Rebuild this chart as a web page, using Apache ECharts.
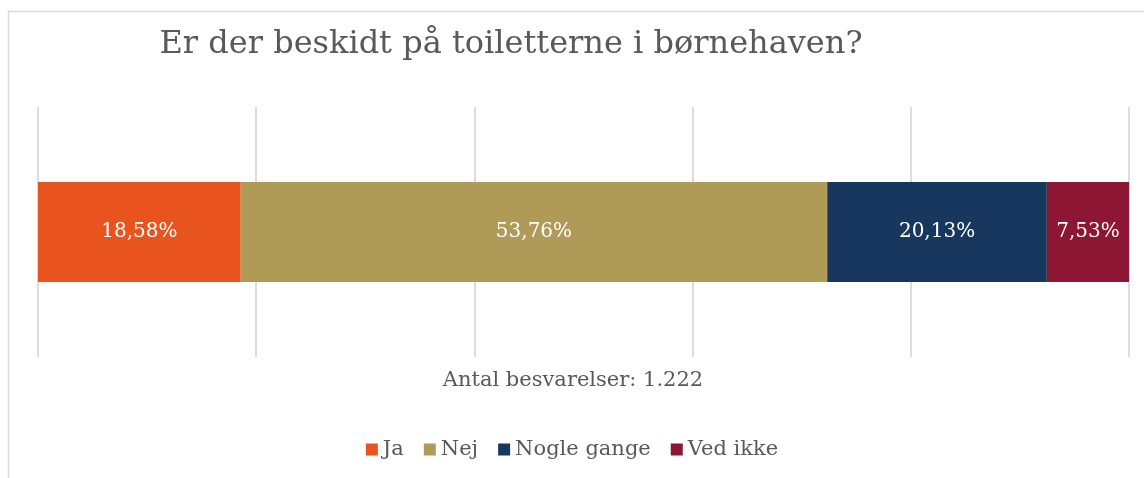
<!DOCTYPE html>
<html>
<head>
<meta charset="utf-8">
<script src="https://cdn.jsdelivr.net/npm/echarts@6/dist/echarts.min.js"></script>
<style>
  html, body { margin: 0; padding: 0; background: #fff; }
  #chart { width: 1144px; height: 478px; }
</style>
</head>
<body>
<div id="chart"></div>
<script>
// data
const categories = ['Svar'];
const seriesNames = ['Ja', 'Nej', 'Nogle gange', 'Ved ikke'];
const seriesValues = [18.58, 53.76, 20.13, 7.53];
const seriesColors = ['#E9541E', '#AF9A58', '#18375F', '#8C1633'];
const xTicks = [0, 20, 40, 60, 80, 100];

const font = '"DejaVu Serif", "Liberation Serif", serif';
const fmt = (v) => v.toFixed(2).replace('.', ',') + '%';

const chart = echarts.init(document.getElementById('chart'));

const option = {
  backgroundColor: '#fff',
  animation: false,
  title: [
    {
      text: 'Er der beskidt på toiletterne i børnehaven?',
      left: 506,
      top: 24,
      textAlign: 'center',
      textStyle: { fontFamily: font, fontSize: 32, fontWeight: 'normal', color: '#595959' },
    },
    {
      text: 'Antal besvarelser: 1.222',
      left: 568,
      top: 365,
      textAlign: 'center',
      textStyle: { fontFamily: font, fontSize: 21, fontWeight: 'normal', color: '#595959' },
    },
  ],
  legend: {
    data: seriesNames,
    left: 'center',
    top: 434,
    icon: 'rect',
    itemWidth: 12,
    itemHeight: 12,
    itemGap: 20,
    textStyle: { fontFamily: font, fontSize: 21, color: '#595959', padding: [0, 0, 0, 0] },
  },
  grid: {
    left: 38,
    right: 15,
    top: 107,
    height: 250,
  },
  xAxis: {
    type: 'value',
    min: xTicks[0],
    max: xTicks[xTicks.length - 1],
    interval: 20,
    axisLabel: { show: false },
    axisLine: { show: false },
    axisTick: { show: false },
    splitLine: { show: true, lineStyle: { color: '#DCDCDC', width: 2 } },
  },
  yAxis: {
    type: 'category',
    data: categories,
    axisLabel: { show: false },
    axisLine: { show: false },
    axisTick: { show: false },
  },
  graphic: [
    {
      type: 'rect',
      shape: { x: 8.5, y: 11.5, width: 1400, height: 800 },
      style: { fill: 'none', stroke: '#D9D9D9', lineWidth: 1.5 },
      silent: true,
    },
  ],
  series: seriesNames.map((name, i) => ({
    name: name,
    type: 'bar',
    stack: 'total',
    barWidth: '40%',
    data: [seriesValues[i]],
    itemStyle: { color: seriesColors[i] },
    label: {
      show: true,
      position: 'inside',
      formatter: (p) => fmt(p.value),
      fontFamily: font,
      fontSize: 20,
      color: '#fff',
    },
  })),
};

chart.setOption(option);
window.addEventListener('resize', () => chart.resize());
</script>
</body>
</html>
